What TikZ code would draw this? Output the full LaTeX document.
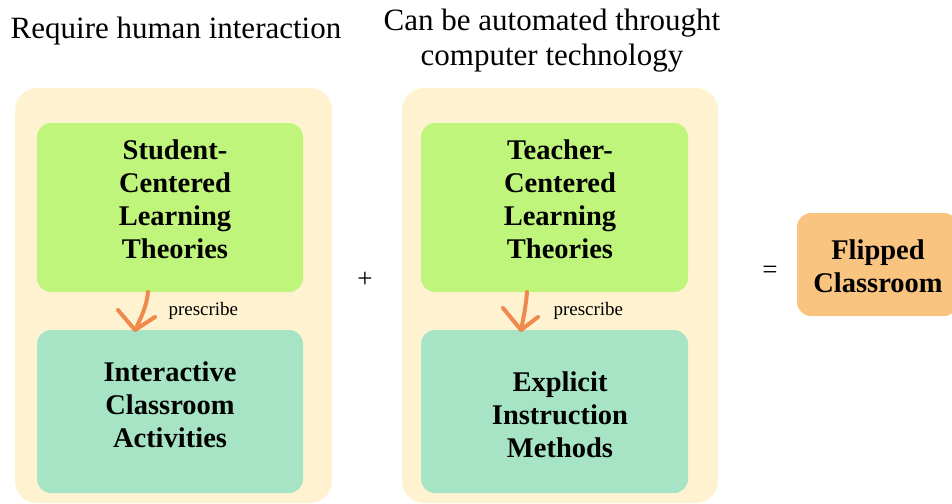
\documentclass[tikz,border=0pt]{standalone}
\usepackage{fontspec}
\setmainfont{Liberation Serif}
\definecolor{creamfill}{HTML}{FEF2D0}
\definecolor{limefill}{HTML}{C0F57C}
\definecolor{mintfill}{HTML}{A6E4C5}
\definecolor{peachfill}{HTML}{F9C47F}
\definecolor{arroworange}{HTML}{EF8A4C}
\begin{document}
\begin{tikzpicture}[x=1pt,y=-1pt,
  panel/.style={fill=creamfill,rounded corners=22pt},
  theory/.style={fill=limefill,rounded corners=14pt},
  method/.style={fill=mintfill,rounded corners=14pt},
  boxtext/.style={align=center,font=\fontsize{28.5}{33}\selectfont\bfseries},
  heading/.style={align=center,font=\fontsize{31}{35}\selectfont},
  operator/.style={font=\fontsize{27}{29}\selectfont},
  relarrow/.style={draw=arroworange,line width=4pt,line cap=round,line join=round},
  smalllabel/.style={font=\fontsize{19}{21}\selectfont,anchor=west}]
\useasboundingbox (0,0) rectangle (952,503);
% cream panels
\fill[panel] (15,88) rectangle (332,503);
\fill[panel] (402,88) rectangle (718,503);
% left column
\path[theory] (37,123) rectangle (303,292);
\node[boxtext] (sct) at (175,199) {Student-\\Centered\\Learning\\Theories};
\path[method] (37,330) rectangle (303,493);
\node[boxtext] (ica) at (170,405) {Interactive\\Classroom\\Activities};
% right column
\path[theory] (421,123) rectangle (688,292);
\node[boxtext] (tct) at (560,199) {Teacher-\\Centered\\Learning\\Theories};
\path[method] (421,330) rectangle (688,493);
\node[boxtext] (eim) at (560,415) {Explicit\\Instruction\\Methods};
% result
\path[fill=peachfill,rounded corners=14pt] (797,213) rectangle (958,316);
\node[boxtext] (fc) at (878,266) {Flipped\\Classroom};
% headings
\node[heading] (h1) at (176,31) {Require human interaction};
\node[heading] (h2) at (552,41) {Can be automated throught\\computer technology};
% operators
\node[operator] (plus) at (365,280) {+};
\node[operator] (eq) at (770,272) {=};
% prescribe arrows: curved shaft with an open, hand-drawn head
\coordinate (a1s) at (148,292);
\coordinate (a1e) at (135,330);
\coordinate (a2s) at (527,292);
\coordinate (a2e) at (521,330);
\draw[relarrow] (a1s) .. controls (147,306) and (140,320) .. (a1e);
\draw[relarrow] (118,310) -- (a1e) -- (155,317);
\draw[relarrow] (a2s) .. controls (526,306) and (523,320) .. (a2e);
\draw[relarrow] (503,308) -- (a2e) -- (538,317);
\node[smalllabel] (p1) at (165,311) {prescribe};
\node[smalllabel] (p2) at (550,311) {prescribe};
\end{tikzpicture}
\end{document}
